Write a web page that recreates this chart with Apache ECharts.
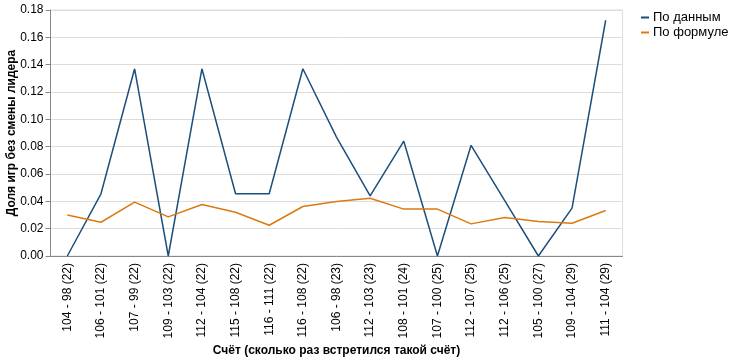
<!DOCTYPE html>
<html>
<head>
<meta charset="utf-8">
<script src="https://cdn.jsdelivr.net/npm/echarts@6/dist/echarts.min.js"></script>
<style>html,body{margin:0;padding:0;background:#fff}#c{width:730px;height:359px}</style>
</head>
<body>
<div id="c"></div>
<script>
const categories = ['104 - 98 (22)','106 - 101 (22)','107 - 99 (22)','109 - 103 (22)','112 - 104 (22)','115 - 108 (22)','116 - 111 (22)','116 - 108 (22)','106 - 98 (23)','112 - 103 (23)','108 - 101 (24)','107 - 100 (25)','112 - 107 (25)','112 - 106 (25)','105 - 100 (27)','109 - 104 (29)','111 - 104 (29)'];
const byData = [0, 0.0455, 0.137, 0, 0.137, 0.0455, 0.0455, 0.137, 0.087, 0.044, 0.084, 0, 0.081, 0.0405, 0, 0.035, 0.1725];
const byFormula = [0.030, 0.0247, 0.0394, 0.0286, 0.0377, 0.032, 0.0225, 0.0362, 0.0399, 0.0423, 0.0343, 0.0343, 0.0235, 0.0281, 0.0252, 0.024, 0.0333];
const yTicks = {min: 0, max: 0.18, interval: 0.02};

const font = 'Liberation Sans, Arial, sans-serif';
const chart = echarts.init(document.getElementById('c'), null, {renderer: 'canvas'});
chart.setOption({
  animation: false,
  textStyle: {fontFamily: font},
  grid: {left: 50.5, right: 107.5, top: 10, bottom: 103, show: true, borderColor: '#ddd', borderWidth: 1, containLabel: false, outerBoundsMode: 'none'},
  legend: {
    orient: 'vertical', left: 636, top: 6, itemGap: 2,
    icon: 'rect', itemWidth: 8, itemHeight: 2,
    textStyle: {fontFamily: font, fontSize: 13, color: '#000', padding: [0, 0, 0, -1]},
    data: ['По данным', 'По формуле']
  },
  xAxis: {
    type: 'category', data: categories, boundaryGap: true,
    name: 'Счёт (сколько раз встретился такой счёт)', nameLocation: 'middle', nameGap: 89, nameMoveOverlap: false,
    nameTextStyle: {fontFamily: font, fontSize: 12, fontWeight: 'bold', color: '#000'},
    axisLine: {lineStyle: {color: '#888', width: 1}},
    axisTick: {alignWithLabel: true, length: 5, lineStyle: {color: '#888'}},
    axisLabel: {rotate: 90, interval: 0, fontSize: 12, color: '#000', margin: 7, fontFamily: font},
    splitLine: {show: false}
  },
  yAxis: {
    type: 'value', min: yTicks.min, max: yTicks.max, interval: yTicks.interval,
    name: 'Доля игр без смены лидера', nameLocation: 'middle', nameGap: 33, nameMoveOverlap: false,
    nameTextStyle: {fontFamily: font, fontSize: 12, fontWeight: 'bold', color: '#000'},
    axisLine: {show: true, lineStyle: {color: '#888', width: 1}},
    axisTick: {show: true, length: 5, lineStyle: {color: '#888'}},
    axisLabel: {fontSize: 12, color: '#000', margin: 7, fontFamily: font, formatter: v => v.toFixed(2)},
    splitLine: {lineStyle: {color: '#ddd', width: 1}}
  },
  series: [
    {name: 'По данным', type: 'line', data: byData, showSymbol: false, symbol: 'none', lineStyle: {color: '#1c4f7c', width: 1.5}, itemStyle: {color: '#1c4f7c'}},
    {name: 'По формуле', type: 'line', data: byFormula, showSymbol: false, symbol: 'none', lineStyle: {color: '#dc7a10', width: 1.5}, itemStyle: {color: '#dc7a10'}}
  ]
});
</script>
</body>
</html>
